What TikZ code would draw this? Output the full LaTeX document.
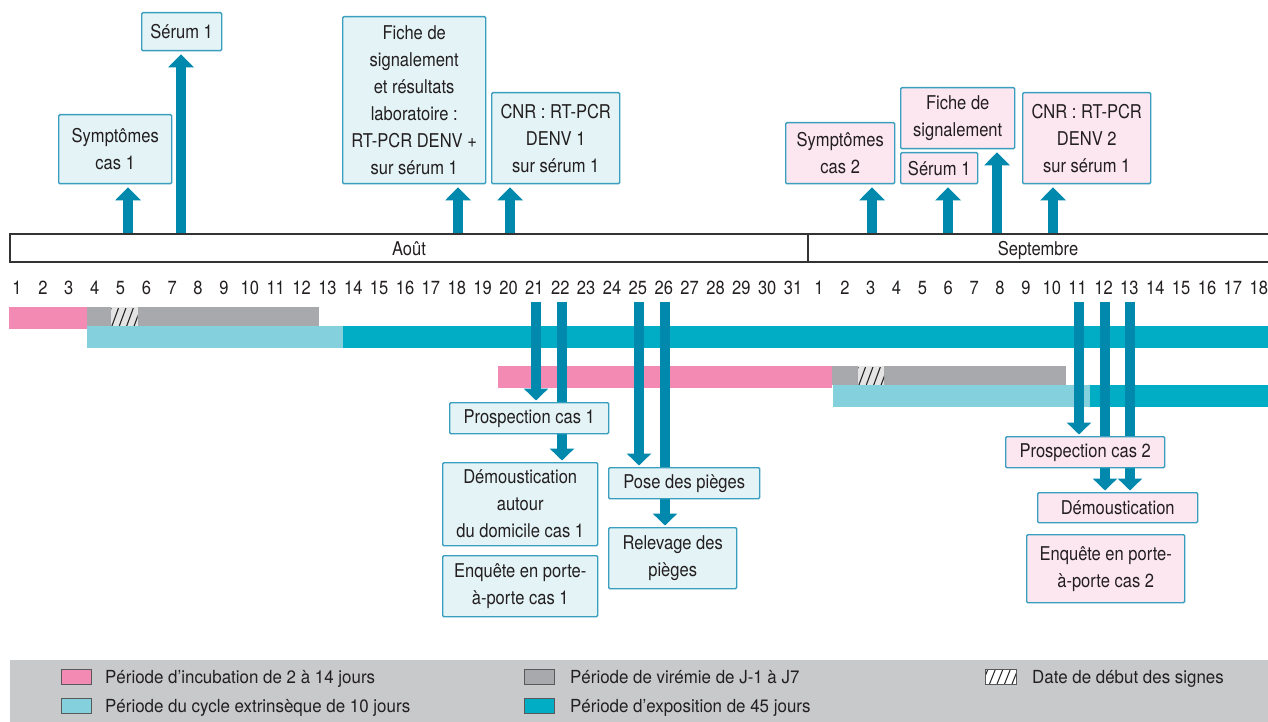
\documentclass[tikz,border=0pt]{standalone}
\usepackage{fontspec}
\setmainfont{TeX Gyre Heros}[FakeStretch=0.87]
\newfontfamily\legfont{TeX Gyre Heros}[FakeStretch=0.94]
\usetikzlibrary{arrows.meta}
\definecolor{arrowc}{HTML}{0089AC}
\definecolor{tealdark}{HTML}{00ADC5}
\definecolor{teallight}{HTML}{84D1DD}
\definecolor{pinkbar}{HTML}{F28AB4}
\definecolor{greybar}{HTML}{A8A9AC}
\definecolor{boxline}{HTML}{3A9FBF}
\definecolor{boxcyan}{HTML}{E3F3F6}
\definecolor{boxpink}{HTML}{FCE6EF}
\definecolor{legbg}{HTML}{C8C9CB}
\definecolor{txt}{HTML}{231F20}
\definecolor{hatchbg}{HTML}{E4E4E4}
\pgfdeclarelayer{bars}
\pgfdeclarelayer{arrows}
\pgfsetlayers{bars,arrows,main}
\begin{document}
\begin{tikzpicture}[x=1pt,y=-1pt,
  evbox/.style={draw=boxline, line width=1.4pt, rounded corners=1.2pt, align=center,
    inner sep=0pt, anchor=north west, text=txt, font=\fontsize{19}{27}\selectfont},
  cyanbox/.style={evbox, fill=boxcyan},
  pinkbox/.style={evbox, fill=boxpink},
  uparrow/.style={draw=arrowc, line width=10pt, -{Triangle[width=25pt,length=13pt]}, shorten >=3pt},
  downarrow/.style={draw=arrowc, line width=10pt, -{Triangle[width=24pt,length=12pt]}, shorten >=1.5pt},
  daynum/.style={text=txt, font=\fontsize{19}{22}\selectfont, inner sep=0pt, anchor=base},
  monthlab/.style={text=txt, font=\fontsize{19}{22}\selectfont, inner sep=0pt, anchor=base},
  swatch/.style={draw=black!65, line width=0.8pt, minimum width=30pt, minimum height=15pt, inner sep=0pt},
  legtext/.style={text=txt, font=\legfont\fontsize{18}{21}\selectfont, inner sep=0pt, anchor=base west},
  hatchline/.style={draw=black!85, line width=1.1pt}
]
\useasboundingbox (0,0) rectangle (1268,722);

% ---------- timeline ----------
\draw[draw=black!80, line width=1.3pt] (10,234) rectangle (1270,262);
\draw[draw=black!80, line width=1.3pt] (808,234) -- (808,262);
\node[monthlab] (aout) at (409,255) {Août};
\node[monthlab] (sept) at (1038,255) {Septembre};

\foreach \i [count=\c from 0] in {1,...,31}
  \node[daynum] (a\i) at ({17+25.87*\c},294) {\i};
\foreach \i in {1,...,18}
  \node[daynum] (s\i) at ({17+25.87*(30+\i)},294) {\i};

% ---------- bars ----------
\begin{pgfonlayer}{bars}
\fill[pinkbar] (9,307) rectangle (87,329);
\fill[greybar] (87,307) rectangle (319,326);
\fill[hatchbg] (111,307) rectangle (137.5,326);
\begin{scope}
  \clip (111,308) rectangle (137.5,326);
  \foreach \k in {0,...,4}
    \draw[hatchline] ({104.5+\k*7.4},326) -- ++(7,-19);
\end{scope}
\fill[teallight] (87,326) rectangle (343,348);
\fill[tealdark] (343,326) rectangle (1270,348);
\fill[pinkbar] (498,366) rectangle (832,388);
\fill[greybar] (832,366) rectangle (1066,385);
\fill[hatchbg] (858,366) rectangle (884,385);
\begin{scope}
  \clip (858,367) rectangle (884,385);
  \foreach \k in {0,...,4}
    \draw[hatchline] ({851.5+\k*7.4},385) -- ++(7,-19);
\end{scope}
\fill[teallight] (833,385) rectangle (1090,407);
\fill[tealdark] (1090,385) rectangle (1270,407);
\end{pgfonlayer}

% ---------- top boxes ----------
\node[cyanbox, minimum width=80pt, minimum height=38pt] (serumA) at (141,12) {Sérum 1};
\node[cyanbox, minimum width=113pt, minimum height=69pt] (sympA) at (58,114) {Symptômes\\cas 1};
\node[cyanbox, minimum width=143pt, minimum height=167pt] (ficheA) at (342,16)
  {Fiche de\\signalement\\et résultats\\laboratoire :\\RT-PCR DENV +\\sur sérum 1};
\node[cyanbox, minimum width=128pt, minimum height=91pt] (cnrA) at (491,92) {CNR : RT-PCR\\DENV 1\\sur sérum 1};
\node[pinkbox, minimum width=109pt, minimum height=61pt] (sympB) at (785,122) {Symptômes\\cas 2};
\node[pinkbox, minimum width=114pt, minimum height=61pt] (ficheB) at (900,87) {Fiche de\\signalement};
\node[pinkbox, minimum width=77pt, minimum height=31pt] (serumB) at (900,152) {Sérum 1};
\node[pinkbox, minimum width=128pt, minimum height=91pt] (cnrB) at (1022,92) {CNR : RT-PCR\\DENV 2\\sur sérum 1};

% ---------- bottom boxes ----------
\node[cyanbox, minimum width=159pt, minimum height=31pt] (prosA) at (449,402) {Prospection cas 1};
\node[cyanbox, minimum width=155pt, minimum height=83pt] (demA) at (442,462) {Démoustication\\autour\\du domicile cas 1};
\node[cyanbox, minimum width=155pt, minimum height=61pt] (enqA) at (442,555) {Enquête en porte-\\à-porte cas 1};
\node[cyanbox, minimum width=151pt, minimum height=31pt] (pose) at (608,467) {Pose des pièges};
\node[cyanbox, minimum width=128pt, minimum height=61pt] (relev) at (608,527) {Relevage des\\pièges};
\node[pinkbox, minimum width=159pt, minimum height=31pt] (prosB) at (1005,436) {Prospection cas 2};
\node[pinkbox, minimum width=160pt, minimum height=30pt] (demB) at (1037,492) {Démoustication};
\node[pinkbox, minimum width=158pt, minimum height=68pt] (enqB) at (1026,534) {Enquête en porte-\\à-porte cas 2};

% ---------- arrows ----------
\coordinate (u1) at (128,233);
\coordinate (u2) at (181,233);
\coordinate (u3) at (458,233);
\coordinate (u4) at (510,233);
\coordinate (u5) at (872,233);
\coordinate (u6) at (948,233);
\coordinate (u7) at (997,233);
\coordinate (u8) at (1053,233);
\coordinate (d1) at (536,302);
\coordinate (d2) at (562,302);
\coordinate (d3) at (639,302);
\coordinate (d4) at (665,302);
\coordinate (d5) at (1079,302);
\coordinate (d6) at (1105,302);
\coordinate (d7) at (1130,302);
\begin{pgfonlayer}{arrows}
\draw[uparrow] (u1) -- (u1 |- sympA.south);
\draw[uparrow] (u2) -- (u2 |- serumA.south);
\draw[uparrow] (u3) -- (u3 |- ficheA.south);
\draw[uparrow] (u4) -- (u4 |- cnrA.south);
\draw[uparrow] (u5) -- (u5 |- sympB.south);
\draw[uparrow] (u6) -- (u6 |- serumB.south);
\draw[uparrow] (u7) -- (u7 |- ficheB.south);
\draw[uparrow] (u8) -- (u8 |- cnrB.south);
\draw[downarrow] (d1) -- (d1 |- prosA.north);
\draw[downarrow] (d2) -- (d2 |- demA.north);
\draw[downarrow] (d3) -- (d3 |- pose.north);
\draw[downarrow] (d4) -- (d4 |- relev.north);
\draw[downarrow] (d5) -- (d5 |- prosB.north);
\draw[downarrow] (d6) -- (d6 |- demB.north);
\draw[downarrow] (d7) -- (d7 |- demB.north);
\end{pgfonlayer}

% ---------- legend ----------
\fill[legbg] (10,660) rectangle (1270,722);
\node[swatch, fill=pinkbar] (lg1) at (76,676.5) {};
\node[legtext] (lt1) at (105,683) {Période d’incubation de 2 à 14 jours};
\node[swatch, fill=greybar] (lg2) at (539,676.5) {};
\node[legtext] (lt2) at (570,683) {Période de virémie de J-1 à J7};
\fill[white] (985,669) rectangle (1016,684);
\begin{scope}
  \clip (985,669) rectangle (1016,684);
  \foreach \k in {0,...,4}
    \draw[hatchline, line width=1pt] ({982+\k*7.5},684) -- ++(6,-15);
\end{scope}
\node[swatch, fill=none, minimum width=31pt] (lg3) at (1000.5,676.5) {};
\node[legtext] (lt3) at (1032,683) {Date de début des signes};
\node[swatch, fill=teallight] (lg4) at (76,705.5) {};
\node[legtext] (lt4) at (105,712) {Période du cycle extrinsèque de 10 jours};
\node[swatch, fill=tealdark] (lg5) at (539,705.5) {};
\node[legtext] (lt5) at (570,712) {Période d’exposition de 45 jours};
\end{tikzpicture}
\end{document}
